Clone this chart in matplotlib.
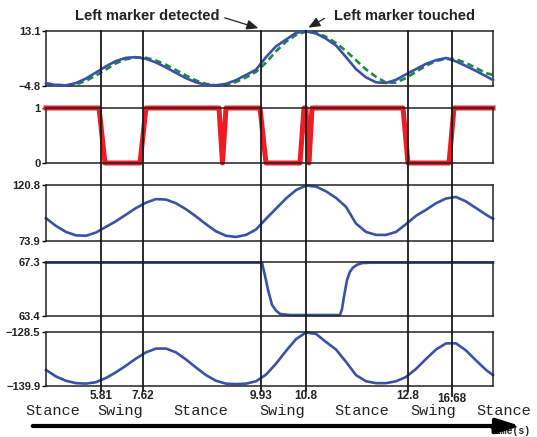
import matplotlib
matplotlib.use("Agg")
import matplotlib.pyplot as plt
import matplotlib.transforms as mtransforms
from matplotlib.lines import Line2D
from matplotlib.patches import FancyArrowPatch

# sample frames (x axis has no real scale, only the marker labels)
frames = list(range(0, 441, 10)) + [447]

# panel 1: foot height, measured (blue) and reference (green dashed)
height_meas = [-3.9, -4.5, -4.6, -3.84, -2.36, -0.41, 1.62, 3.33, 4.37, 4.59,
               4.02, 2.85, 1.25, -0.54, -2.25, -3.61, -4.42, -4.58, -4.1, -2.9,
               -1.2, 0.5, 4.6, 8.1, 10.3, 12.5, 13.0, 12.3, 10.6, 8.4,
               4.6, 0.7, -2.0, -3.6, -3.8, -2.8, -1.0, 0.7, 2.4, 3.6,
               4.3, 3.2, 1.7, 0.1, -1.6, -2.9]
height_ref = [-4.0, -4.4, -4.6, -4.3, -3.1, -1.4, 0.6, 2.6, 3.9, 4.5,
              4.4, 3.5, 2.1, 0.4, -1.4, -3.0, -4.1, -4.6, -4.4, -3.5,
              -2.0, -0.2, 2.8, 6.5, 9.6, 11.8, 12.9, 12.6, 11.2, 9.2,
              6.6, 3.6, 0.6, -1.8, -3.7, -3.7, -2.2, -0.2, 1.8, 3.3,
              4.1, 3.9, 2.7, 1.1, -0.6, -1.2]

# panel 2: contact state
contact_frames = [0, 53, 59, 94, 100, 173, 176.5, 180, 214, 220, 254, 258, 260, 263, 266, 357, 362, 403, 408, 447]
contact = [1, 1, 0, 0, 1, 1, 0, 1, 1, 0, 0, 1, 1, 0, 1, 1, 0, 0, 1, 1]

# panel 3
joint_a = [93.0, 86.5, 81.5, 78.6, 78.3, 81.0, 85.8, 90.5, 96.0, 101.5,
           106.0, 109.0, 108.6, 105.5, 100.5, 94.5, 88.0, 82.0, 78.3, 77.3,
           79.0, 83.5, 92.5, 101.0, 109.5, 116.5, 120.3, 119.5, 115.5, 110.0,
           102.5, 88.5, 81.5, 79.0, 79.0, 81.5, 88.0, 95.0, 100.0, 105.5,
           109.5, 110.8, 107.0, 101.5, 96.0, 92.5]

# panel 4
joint_b_frames = [0, 216, 219, 222, 226, 230, 234, 244, 294, 296, 298, 301, 304, 307, 311, 316, 324, 447]
joint_b = [67.25, 67.25, 66.3, 65.3, 64.2, 63.8, 63.55, 63.47, 63.47, 63.9, 64.8, 66.0, 66.6, 66.9, 67.1, 67.22, 67.25, 67.25]

# panel 5
joint_c = [-136.5, -137.9, -138.8, -139.3, -139.4, -139.1, -138.2, -137.0, -135.6, -134.1,
           -132.8, -132.0, -132.0, -132.8, -134.3, -136.0, -137.6, -138.8, -139.4, -139.5,
           -139.4, -138.9, -137.5, -135.2, -132.5, -130.0, -128.6, -128.9, -130.6, -132.2,
           -134.8, -137.6, -138.9, -139.3, -139.3, -138.9, -138.0, -136.3, -134.2, -132.2,
           -130.9, -130.9, -132.4, -134.5, -136.5, -137.6]

y_limits = [(-4.8, 13.1), (0, 1), (73.9, 120.8), (63.4, 67.3), (-139.9, -128.5)]
y_labels = [('\u22124.8', '13.1'), ('0', '1'), ('73.9', '120.8'), ('63.4', '67.3'), ('\u2212139.9', '\u2212128.5')]

marker_frames = [55, 97, 215, 260, 362, 406]
marker_labels = ['5.81', '7.62', '9.93', '10.8', '12.8', '16.68']
phase_labels = ['Stance', 'Swing', 'Stance', 'Swing', 'Stance', 'Swing', 'Stance']
phase_x = [53, 120, 201, 282, 362, 433, 504]

blue_ = '#3a52a4'
green_ = '#1c8a3c'
red_ = '#ee1c25'
ink_ = '#222222'

W, H = 537, 437
fig = plt.figure(figsize=(W / 100, H / 100), dpi=100)


def fx(x):
    return x / W


def fy(y):
    return 1 - y / H


panel_px = [(31, 86), (108, 163), (185, 241), (262, 316), (332, 386)]
axes = []
for (top, bot), lim, labs in zip(panel_px, y_limits, y_labels):
    ax = fig.add_axes([fx(46), fy(bot), fx(447), (bot - top) / H])
    ax.set_xlim(0, 447)
    ax.set_ylim(*lim)
    ax.set_xticks([])
    ax.set_yticks(list(lim))
    ax.set_yticklabels(labs, fontweight='bold', fontsize=8, family='Liberation Sans', color=ink_)
    ax.tick_params(axis='y', length=3, width=1, pad=1)
    for s in ax.spines.values():
        s.set_linewidth(1.1)
        s.set_color(ink_)
    axes.append(ax)

axes[0].plot(frames, height_meas, color=blue_, lw=1.9, clip_on=False, zorder=3)
axes[0].plot(frames, height_ref, color=green_, lw=1.9, ls=(0, (2.5, 1.5)), clip_on=False, zorder=2)
axes[1].plot(contact_frames, contact, color=red_, lw=3.6, clip_on=False)
axes[2].plot(frames, joint_a, color=blue_, lw=1.9, clip_on=False)
axes[3].plot(joint_b_frames, joint_b, color=blue_, lw=1.9, clip_on=False)
axes[4].plot(frames, joint_c, color=blue_, lw=1.9, clip_on=False)

# vertical marker lines across all panels
trans = mtransforms.blended_transform_factory(axes[0].transData, fig.transFigure)
for f, lab in zip(marker_frames, marker_labels):
    low = 396 if lab == '16.68' else 391
    fig.add_artist(Line2D([f, f], [fy(31), fy(low)], transform=trans, color='#1a1a1a', lw=1.3, zorder=5))
    ly = 399 if lab == '16.68' else 396
    fig.text(f, fy(ly), lab, transform=trans, ha='center', va='center', fontsize=8.5,
             fontweight='bold', family='Liberation Sans', color=ink_)

for x, lab in zip(phase_x, phase_labels):
    fig.text(fx(x), fy(411), lab, ha='center', va='center', fontsize=11, family='Liberation Mono', color=ink_)

# time arrow
fig.text(fx(510), fy(430.5), 'time(s)', ha='center', va='center', fontsize=7, fontweight='bold',
         family='Liberation Mono', color=ink_, zorder=1)
fig.add_artist(FancyArrowPatch((fx(30), fy(426)), (fx(523), fy(426)), transform=fig.transFigure,
                               arrowstyle='-|>,head_length=1.4,head_width=0.45', mutation_scale=10,
                               lw=3, color='black', zorder=6))

# annotations
fig.text(fx(147), fy(16), 'Left marker detected', ha='center', va='center', fontsize=10.5,
         fontweight='bold', family='Liberation Sans', color=ink_)
fig.text(fx(404), fy(16), 'Left marker touched', ha='center', va='center', fontsize=10.5,
         fontweight='bold', family='Liberation Sans', color=ink_)
fig.add_artist(FancyArrowPatch((fx(222), fy(17)), (fx(261), fy(29)), transform=fig.transFigure,
                               arrowstyle='-|>,head_length=0.7,head_width=0.3', mutation_scale=10,
                               lw=0.9, color=ink_))
fig.add_artist(FancyArrowPatch((fx(327), fy(17)), (fx(306), fy(29)), transform=fig.transFigure,
                               arrowstyle='-|>,head_length=0.7,head_width=0.3', mutation_scale=10,
                               lw=0.9, color=ink_))

fig.savefig('out.png', dpi=100)
